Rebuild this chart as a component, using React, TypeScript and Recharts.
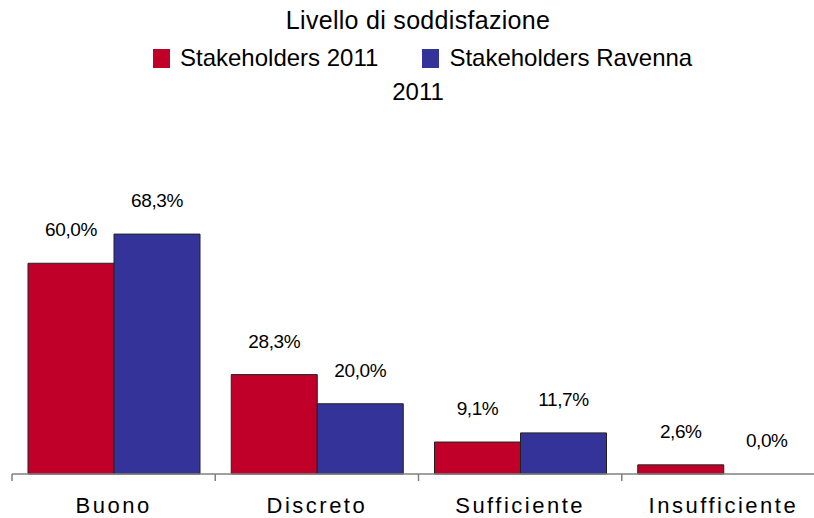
import React from 'react'
import { BarChart, Bar, XAxis, YAxis, Legend, LabelList, Cell } from 'recharts'

const categories = ['Buono', 'Discreto', 'Sufficiente', 'Insufficiente']
const stakeholders2011 = [60.0, 28.3, 9.1, 2.6]
const stakeholdersRavenna = [68.3, 20.0, 11.7, 0.0]

const seriesNames = ['Stakeholders 2011', 'Stakeholders Ravenna 2011']
const colors = ['#C00028', '#333399']

const FONT = '"Liberation Sans", Arial, sans-serif'

const chartData = categories.map((cat, i) => ({
  categoria: cat,
  s2011: stakeholders2011[i],
  ravenna: stakeholdersRavenna[i]
}))

const formatPct = (v: number) => `${Number(v).toFixed(1).replace('.', ',')}%`

function LegendBox() {
  const square = (color: string) => (
    <span style={{ display: 'inline-block', width: 17, height: 19, background: color, marginRight: 10 }} />
  )
  return (
    <div style={{ fontFamily: FONT, color: '#000', width: 814, textAlign: 'center', position: 'relative', height: 100 }}>
      <div style={{ position: 'absolute', left: 0, top: 5, width: 836, fontSize: 25, lineHeight: '30px', letterSpacing: 0.3 }}>
        Livello di soddisfazione
      </div>
      <div style={{ position: 'absolute', left: 153, top: 44, fontSize: 24, lineHeight: '28px', display: 'flex', alignItems: 'center' }}>
        {square(colors[0])}
        <span>Stakeholders 2011</span>
        <span style={{ display: 'inline-block', width: 44 }} />
        {square(colors[1])}
        <span>Stakeholders Ravenna</span>
      </div>
      <div style={{ position: 'absolute', left: 0, top: 78, width: 836, fontSize: 24, lineHeight: '28px' }}>2011</div>
    </div>
  )
}

function CategoryTick(props: any) {
  const { x, y, payload, width, index, visibleTicksCount } = props
  const bw = width / visibleTicksCount
  return (
    <g>
      <line x1={x - bw / 2} x2={x - bw / 2} y1={y - 8} y2={y - 1} stroke="#808080" strokeWidth={1.5} />
      {index === visibleTicksCount - 1 && (
        <line x1={x + bw / 2} x2={x + bw / 2} y1={y - 8} y2={y - 1} stroke="#808080" strokeWidth={1.5} />
      )}
      <text x={x} y={y + 31} textAnchor="middle" fontFamily={FONT} fontSize={22} letterSpacing={2.5} fill="#000">
        {payload.value}
      </text>
    </g>
  )
}

function PctLabel(props: any) {
  const { x, y, width, value } = props
  if (x == null || y == null) return null
  return (
    <text x={x + width / 2} y={y - 27} textAnchor="middle" fontFamily={FONT} fontSize={19} letterSpacing={-0.4} fill="#000">
      {formatPct(value)}
    </text>
  )
}

export default function App() {
  return (
    <div style={{ position: 'absolute', left: 0, top: 0, width: 814, height: 518, overflow: 'hidden', background: '#fff' }}>
      <BarChart
        width={830}
        height={518}
        data={chartData}
        margin={{ top: 93, right: 5, left: 12, bottom: 0 }}
        barCategoryGap={16}
        barGap={0}
      >
        <Legend
          verticalAlign="top"
          content={() => <LegendBox />}
          wrapperStyle={{ top: 0, left: 0, width: 814, height: 100 }}
        />
        <XAxis
          dataKey="categoria"
          axisLine={{ stroke: '#808080', strokeWidth: 1.5 }}
          tickLine={false}
          tick={<CategoryTick />}
          interval={0}
          height={44}
        />
        <YAxis hide domain={[0, 80]} />
        <Bar dataKey="s2011" name={seriesNames[0]} fill={colors[0]} stroke="#222" strokeWidth={1} minPointSize={0.5} isAnimationActive={false}>
          {stakeholders2011.map((v, i) => (
            <Cell key={`a-${i}`} fill={v === 0 ? 'none' : colors[0]} stroke={v === 0 ? 'none' : '#222'} />
          ))}
          <LabelList dataKey="s2011" content={<PctLabel />} />
        </Bar>
        <Bar dataKey="ravenna" name={seriesNames[1]} fill={colors[1]} stroke="#222" strokeWidth={1} minPointSize={0.5} isAnimationActive={false}>
          {stakeholdersRavenna.map((v, i) => (
            <Cell key={`b-${i}`} fill={v === 0 ? 'none' : colors[1]} stroke={v === 0 ? 'none' : '#222'} />
          ))}
          <LabelList dataKey="ravenna" content={<PctLabel />} />
        </Bar>
      </BarChart>
    </div>
  )
}
